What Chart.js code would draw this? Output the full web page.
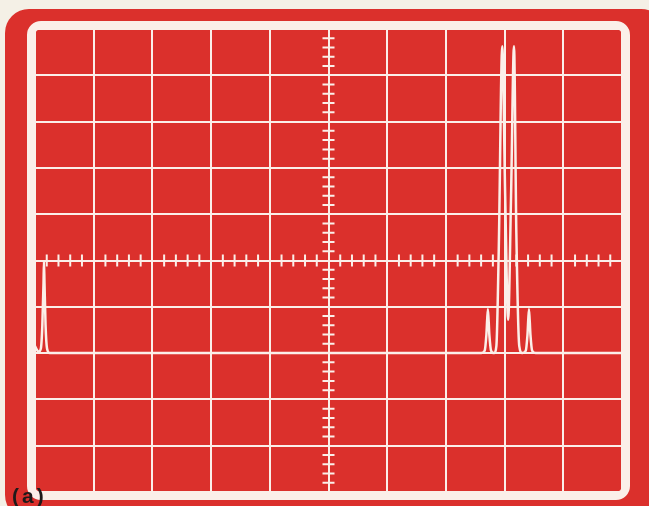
<!DOCTYPE html>
<html>
<head>
<meta charset="utf-8">
<script src="https://cdn.jsdelivr.net/npm/chart.js@4.4.1/dist/chart.umd.min.js"></script>
<style>
  html, body { margin: 0; padding: 0; background: #f4f0e6; }
  canvas { display: block; }
</style>
</head>
<body>
<canvas id="scope" width="649" height="506"></canvas>
<script>
// Screen divisions (10 x 10 graticule, centre at 5 / 0)
const xDivisions = [0, 10];
const yDivisions = [-5, 5];

// Trace (x in divisions from left, y in divisions from centre)
const traceX = [0, 0.06, 0.1, 0.125, 0.145, 0.153, 0.162, 0.18, 0.205, 0.25,
  7.6, 7.66, 7.69, 7.715, 7.74, 7.77, 7.82, 7.86, 7.9, 7.96, 8.01, 8.06, 8.11, 8.16, 8.2, 8.25,
  8.3, 8.36, 8.39, 8.415, 8.44, 8.47, 8.53, 10];
const traceY = [-1.85, -1.97, -1.9, -1.4, -0.5, -0.02, -0.5, -1.4, -1.9, -2.0,
  -2.0, -1.95, -1.6, -1.05, -1.6, -1.95, -2.0, -1.85, 0.2, 4.63, 1.4, -1.28, 1.4, 4.63, 0.6, -1.85,
  -2.0, -1.95, -1.6, -1.05, -1.6, -1.95, -2.0, -2.0];

const RED = '#db302c';
const LINE = '#fbefe9';

function roundRect(ctx, x, y, w, h, r) {
  ctx.beginPath();
  ctx.moveTo(x + r, y);
  ctx.arcTo(x + w, y, x + w, y + h, r);
  ctx.arcTo(x + w, y + h, x, y + h, r);
  ctx.arcTo(x, y + h, x, y, r);
  ctx.arcTo(x, y, x + w, y, r);
  ctx.closePath();
}

const scopePlugin = {
  id: 'scope',
  beforeDraw(chart) {
    const ctx = chart.ctx;
    ctx.save();
    ctx.fillStyle = '#f4f0e6';
    ctx.fillRect(0, 0, chart.width, chart.height);
    // red bezel
    ctx.fillStyle = RED;
    roundRect(ctx, 5, 9, 660, 510, 24);
    ctx.fill();
    ctx.restore();
  },
  afterDraw(chart) {
    const ctx = chart.ctx;
    const a = chart.chartArea;
    const xs = chart.scales.x, ys = chart.scales.y;
    ctx.save();
    // white frame round the graticule
    ctx.strokeStyle = LINE;
    ctx.lineWidth = 8;
    roundRect(ctx, a.left - 4, a.top - 4, a.right - a.left + 8, a.bottom - a.top + 8, 10);
    ctx.stroke();

    // minor ticks on the centre axes
    const cx = xs.getPixelForValue(5);
    const cy = ys.getPixelForValue(0);
    ctx.lineWidth = 2;
    ctx.beginPath();
    for (let i = 1; i < 50; i++) {
      if (i % 5 === 0) continue;
      const px = xs.getPixelForValue(i * 0.2);
      ctx.moveTo(px, cy - 6);
      ctx.lineTo(px, cy + 6);
    }
    for (let i = 1; i < 50; i++) {
      if (i % 5 === 0) continue;
      const py = ys.getPixelForValue(-5 + i * 0.2);
      ctx.moveTo(cx - 6, py);
      ctx.lineTo(cx + 6, py);
    }
    ctx.stroke();

    // caption
    ctx.fillStyle = '#1e1a1a';
    ctx.font = 'bold 21px "Liberation Sans", Arial, sans-serif';
    ctx.letterSpacing = '3px';
    ctx.textBaseline = 'alphabetic';
    ctx.fillText('(a)', 12, 503);
    ctx.restore();
  }
};

new Chart(document.getElementById('scope'), {
  type: 'line',
  data: {
    datasets: [{
      data: traceX.map((x, i) => ({ x: x, y: traceY[i] })),
      borderColor: LINE,
      borderWidth: 2.5,
      pointRadius: 0,
      cubicInterpolationMode: 'monotone',
      fill: false
    }]
  },
  options: {
    responsive: false,
    animation: false,
    devicePixelRatio: 1,
    layout: { padding: { left: 35, top: 29, right: 27, bottom: 14 } },
    plugins: { legend: { display: false }, tooltip: { enabled: false } },
    scales: {
      x: {
        type: 'linear',
        min: xDivisions[0],
        max: xDivisions[1],
        ticks: { display: false, stepSize: 1 },
        grid: { color: LINE, lineWidth: 2, drawTicks: false },
        border: { display: false }
      },
      y: {
        type: 'linear',
        min: yDivisions[0],
        max: yDivisions[1],
        ticks: { display: false, stepSize: 1 },
        grid: { color: LINE, lineWidth: 2, drawTicks: false },
        border: { display: false }
      }
    }
  },
  plugins: [scopePlugin]
});
</script>
</body>
</html>
